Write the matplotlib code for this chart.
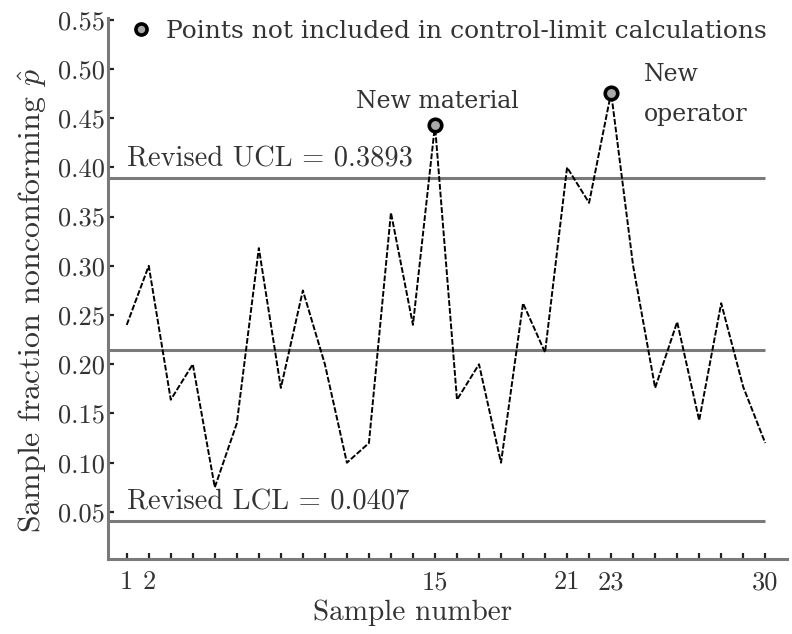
import matplotlib
matplotlib.use("Agg")
import matplotlib.pyplot as plt
from matplotlib.lines import Line2D
import numpy as np

plt.rcParams['mathtext.fontset'] = 'cm'
plt.rcParams['axes.formatter.use_mathtext'] = True

# data
sample = list(range(1, 31))
p_hat = [0.24, 0.30, 0.164, 0.20, 0.075, 0.14, 0.318, 0.176, 0.275, 0.20,
         0.10, 0.12, 0.354, 0.24, 0.443, 0.164, 0.20, 0.10, 0.262, 0.212,
         0.40, 0.364, 0.476, 0.30, 0.176, 0.243, 0.143, 0.262, 0.177, 0.12]
excluded = [15, 23]
ucl = 0.3893
center = 0.2150
lcl = 0.0407
x_labels = [1, 2, 15, 21, 23, 30]
y_ticks = [0.05, 0.10, 0.15, 0.20, 0.25, 0.30, 0.35, 0.40, 0.45, 0.50, 0.55]

cm = 'cmr10'
serif = 'DejaVu Serif'
txt = '#333333'
gray = '#7a7a7a'

fig = plt.figure(figsize=(7.92, 6.34), dpi=100)
ax = fig.add_axes([0.136, 0.118, 0.858, 0.854])

# control limits
for v in (ucl, center, lcl):
	ax.plot([0, 30], [v, v], color=gray, lw=2.2, solid_capstyle='butt', zorder=1)

ax.plot(sample, p_hat, color='black', lw=1.4, ls=(0, (3, 1)), zorder=2)

ex_y = [p_hat[sample.index(s)] for s in excluded]
ax.plot(excluded, ex_y, ls='none', marker='o', ms=9, mfc='#aaaaaa', mec='black', mew=2.6, zorder=3)

ax.set_xlim(0.136, 31.0)
ax.set_ylim(0.002, 0.552)

ax.spines['top'].set_visible(False)
ax.spines['right'].set_visible(False)
for s in ('left', 'bottom'):
	ax.spines[s].set_color(gray)
	ax.spines[s].set_linewidth(2.2)

ax.set_xticks(x_labels)
ax.set_xticklabels([str(v) for v in x_labels], fontfamily=cm, fontsize=19, color=txt)
ax.set_xticks([v for v in sample if v not in x_labels], minor=True)
ax.tick_params(axis='x', which='both', direction='in', length=4, width=1.6, color='#222222', pad=8)

ax.set_yticks(y_ticks)
ax.set_yticklabels(["%.2f" % v for v in y_ticks], fontfamily=cm, fontsize=19, color=txt)
ax.tick_params(axis='y', direction='in', length=4, width=1.6, color='#222222', pad=2)

ax.set_xlabel("Sample number", fontfamily=cm, fontsize=21, color=txt)
ax.xaxis.set_label_coords(0.448, -0.074)
ax.set_ylabel(r"Sample fraction nonconforming $\hat{p}$", fontfamily=cm, fontsize=23, color=txt)
ax.yaxis.set_label_coords(-0.086, 0.477)

ax.text(1.0, ucl + 0.006, "Revised UCL = 0.3893", fontfamily=cm, fontsize=20.5, color=txt, va='bottom')
ax.text(1.0, lcl + 0.006, "Revised LCL = 0.0407", fontfamily=cm, fontsize=20.5, color=txt, va='bottom')
ax.text(11.4, 0.467, "New material", fontfamily=serif, fontsize=17, color=txt, va='center')
ax.text(24.5, 0.474, "New\noperator", fontfamily=serif, fontsize=17, color=txt, va='center', linespacing=1.9)

h = Line2D([], [], ls='none', marker='o', ms=8, mfc='#aaaaaa', mec='black', mew=2.6)
ax.legend([h], ["Points not included in control-limit calculations"], loc='center left',
	bbox_to_anchor=(0.035, 0.975), frameon=False, handlelength=0.8, handletextpad=0.6,
	borderpad=0, borderaxespad=0, prop={'family': serif, 'size': 18}, labelcolor=txt)

plt.savefig("out.png", dpi=100)
